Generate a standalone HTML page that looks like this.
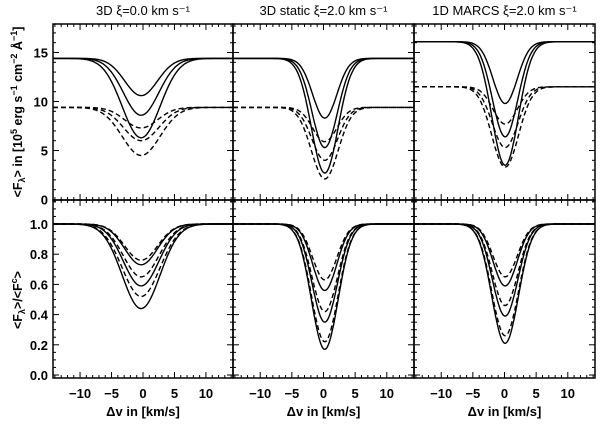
<!DOCTYPE html>
<html><head><meta charset="utf-8"><style>
body{margin:0;background:#fff}
svg text{font-family:"Liberation Sans",sans-serif;font-weight:bold;fill:#000}
svg text.t{font-weight:normal}
</style></head><body>
<svg id="c" width="600" height="422" xmlns="http://www.w3.org/2000/svg"></svg>
<script>
const panelTitles=["3D \u03BE=0.0 km s\u207B\u00B9","3D static \u03BE=2.0 km s\u207B\u00B9","1D MARCS \u03BE=2.0 km s\u207B\u00B9"];
const xTicks=[-10,-5,0,5,10];
const topTicks=[0,5,10,15];
const botTicks=[0.0,0.2,0.4,0.6,0.8,1.0];
// absolute flux: continuum and minima per panel
const solidCont=[14.4,14.4,16.1];
const dashCont=[9.4,9.4,11.5];
const solidMinTop=[[10.6,8.6,6.3],[8.3,5.3,2.7],[9.8,6.4,3.5]];
const dashMinTop=[[7.3,6.0,4.5],[5.9,4.0,2.1],[7.7,5.3,3.3]];
// normalised
const solidMinBot=[[0.73,0.59,0.44],[0.56,0.35,0.17],[0.59,0.39,0.21]];
const dashMinBot=[[0.76,0.65,0.52],[0.63,0.42,0.22],[0.65,0.46,0.26]];
const lineCenter=[-0.3,0.2,0.1];
const sigmas=[[2.6,2.8,3.0],[1.9,2.0,2.1],[1.9,2.0,2.1]];

const svg=document.getElementById('c');
const NS="http://www.w3.org/2000/svg";
function mk(t,a,p){const e=document.createElementNS(NS,t);for(const k in a)e.setAttribute(k,a[k]);(p||svg).appendChild(e);return e;}
const px=[53,233,414,595];
const xmin=-14.3,xmax=14.3;
function X(i,v){return px[i]+(v-xmin)/(xmax-xmin)*(px[i+1]-px[i]);}
function YT(v){return 199.5-v*9.8;}
function YB(v){return 375-v*151;}

for(let i=0;i<3;i++){
  const t=mk('text',{x:(px[i]+px[i+1])/2,y:15,'text-anchor':'middle','font-size':13,'class':'t'});
  t.textContent=panelTitles[i];
  
  
  for(let r=0;r<2;r++){
    const y0=r?200:24,y1=r?378:200;
    const g=mk('g',{});
    
    
    mk('rect',{x:px[i],y:y0,width:px[i+1]-px[i],height:y1-y0,fill:'none',stroke:'#000','stroke-width':1.5},g);
    for(let v=-14;v<=14;v++){
      const xx=X(i,v),L=(v%5===0)?6:3;
      mk('line',{x1:xx,x2:xx,y1:y1,y2:y1-L,stroke:'#000','stroke-width':1},g);
      mk('line',{x1:xx,x2:xx,y1:y0,y2:y0+L,stroke:'#000','stroke-width':1},g);
    }
    const Y=r?YB:YT;
    const minors=[];
    if(r){for(let k=0;k<=23;k++)minors.push(k*0.05);}else{for(let k=0;k<=17;k++)minors.push(k);}
    minors.forEach((v,k)=>{
      const yy=Y(v);if(yy<y0+1||yy>y1-1)return;
      const L=(r?(k%4===0):(k%5===0))?6:3;
      mk('line',{x1:px[i],x2:px[i]+L,y1:yy,y2:yy,stroke:'#000','stroke-width':1},g);
      mk('line',{x1:px[i+1],x2:px[i+1]-L,y1:yy,y2:yy,stroke:'#000','stroke-width':1},g);
    });
    const sets=r?[[solidMinBot[i].map(()=>1),solidMinBot[i],null],[dashMinBot[i].map(()=>1),dashMinBot[i],'5,3']]
               :[[solidMinTop[i].map(()=>solidCont[i]),solidMinTop[i],null],[dashMinTop[i].map(()=>dashCont[i]),dashMinTop[i],'5,3']];
    sets.forEach(([conts,mins,dash],si)=>{
      mins.forEach((m,j)=>{
        let d='';
        for(let s=0;s<=200;s++){
          const v=xmin+(xmax-xmin)*s/200;
          const f=conts[j]-(conts[j]-m)*Math.exp(-Math.pow(v-lineCenter[i],2)/(2*sigmas[i][j]*sigmas[i][j]));
          d+=(s?'L':'M')+X(i,v).toFixed(1)+','+Y(f).toFixed(1);
        }
        const p=mk('path',{d:d,fill:'none',stroke:'#000','stroke-width':1.4});
        if(dash)p.setAttribute('stroke-dasharray',dash);
        g.appendChild(p);
        
        
      });
    });
  }
  xTicks.forEach(v=>{
    const t=mk('text',{x:X(i,v),y:398,'text-anchor':'middle','font-size':13});
    t.textContent=v<0?'\u2212'+(-v):String(v);
    
    
  });
  const xl=mk('text',{x:(px[i]+px[i+1])/2,y:416,'text-anchor':'middle','font-size':13});
  xl.textContent='\u0394v in [km/s]';
  
  
}
topTicks.forEach(v=>{
  const t=mk('text',{x:48,y:YT(v)+5,'text-anchor':'end','font-size':13});
  t.textContent=String(v);
  
  
});
botTicks.forEach(v=>{
  const t=mk('text',{x:48,y:YB(v)+5,'text-anchor':'end','font-size':13});
  t.textContent=v.toFixed(1);
  
  
});
const yt=mk('text',{transform:'translate(22,112) rotate(-90)','text-anchor':'middle','font-size':12.5});
yt.innerHTML='&lt;F<tspan font-size="9" dy="3">\u03BB</tspan><tspan dy="-3">&gt; in [10</tspan><tspan font-size="9" dy="-5">5</tspan><tspan dy="5"> erg s</tspan><tspan font-size="9" dy="-5">\u22121</tspan><tspan dy="5"> cm</tspan><tspan font-size="9" dy="-5">\u22122</tspan><tspan dy="5"> \u00C5</tspan><tspan font-size="9" dy="-5">\u22121</tspan><tspan dy="5">]</tspan>';


const yb=mk('text',{transform:'translate(22,300) rotate(-90)','text-anchor':'middle','font-size':12.5});
yb.innerHTML='&lt;F<tspan font-size="9" dy="3">\u03BB</tspan><tspan dy="-3">&gt;/&lt;F</tspan><tspan font-size="9" dy="-5">c</tspan><tspan dy="5">&gt;</tspan>';


</script>
</body></html>
